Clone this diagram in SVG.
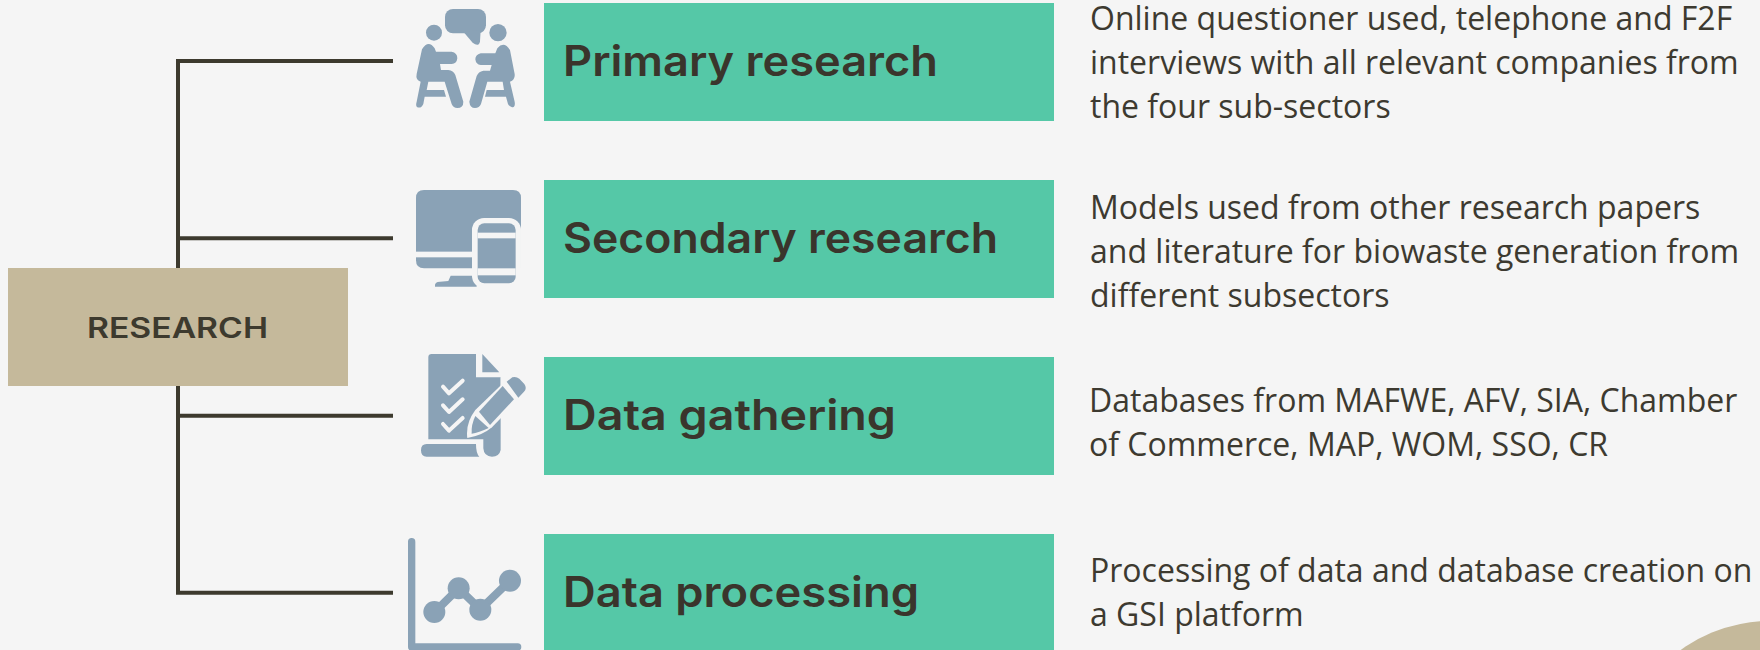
<svg xmlns="http://www.w3.org/2000/svg" width="1760" height="650" viewBox="0 0 1760 650">
<style>
.bg{fill:#f5f5f5}
.box{fill:#55c8a7}
.root{fill:#c5b99b}
.ln{fill:none;stroke:#3d3a2e;stroke-width:4}
.t{font-family:"Inter","Liberation Sans",sans-serif;font-weight:600;font-size:42px;fill:#3a352c}
.r{font-family:"Inter","Liberation Sans",sans-serif;font-weight:600;font-size:28px;fill:#3d3a2e}
.d{font-family:"Open Sans","Liberation Sans",sans-serif;font-size:32px;fill:#3d3a30}
.i{fill:#8aa2b6}
.is{fill:none;stroke:#8aa2b6;stroke-linecap:round;stroke-linejoin:round}
.o{fill:none;stroke:#f5f5f5;stroke-linecap:round;stroke-linejoin:round}
</style>
<rect class="bg" width="1760" height="650"/>
<circle cx="1770" cy="773" r="152" class="root"/>
<g id="connectors">
<path class="ln" d="M178 61V592.700M176 61H393M178 238.300H393M178 415.700H393M176 592.700H393"/>
</g>
<g id="research"><rect class="root" x="8" y="268" width="340" height="118"/><text class="r" x="177.500" y="338" text-anchor="middle" textLength="181" lengthAdjust="spacingAndGlyphs">RESEARCH</text></g>
<g id="primary">
<g transform="translate(380 0) scale(.3333)">
<rect class="i" x="195" y="27" width="123" height="73" rx="24"/><path class="i" d="M250 95 L278 128Q296 142 300 125 L302 90Z"/>
<circle class="i" cx="162" cy="98" r="24"/><circle class="i" cx="354" cy="98" r="26"/>
<path class="i" d="M126 148Q145 118 164 145L168 155H215Q232 158 232 175Q230 192 215 192H180L183 210H205Q220 212 226 225L250 305Q250 324 232 324Q220 324 215 312L194 245H145L140 270H192L198 290H134L130 312Q124 326 112 322Q106 318 110 305L122 245Q106 240 110 222Z"/>
<path class="i" d="M390 150Q372 122 352 145L346 160H302Q286 164 286 178Q288 194 302 195H335L330 212H310Q295 215 290 228L268 305Q270 324 285 324Q298 324 303 312L322 245H368L372 270H320L315 290H378L384 312Q392 326 402 320Q406 316 404 305L390 245Q406 240 404 222Z"/>
</g>
<rect class="box" x="544" y="3" width="510" height="118"/>
<text class="t" x="563" y="76" textLength="375" lengthAdjust="spacingAndGlyphs">Primary research</text>
<text class="d" x="1090" y="29.500">Online questioner used, telephone and F2F</text>
<text class="d" x="1090" y="73.500">interviews with all relevant companies from</text>
<text class="d" x="1090" y="117.500">the four sub-sectors</text>
</g>
<g id="secondary">
<g transform="translate(380 170) scale(.3333)">
<path class="i" d="M132 60H399Q423 60 423 84V295H132Q108 295 108 271V84Q108 60 132 60Z"/>
<rect class="bg" x="108" y="245" width="180" height="17"/>
<path class="i" d="M205 333L212 317H290V350H165Q163 335 180 335Z"/>
<rect class="bg" x="276" y="144" width="147" height="210" rx="36"/>
<rect class="i" x="293" y="160" width="114" height="180" rx="20"/>
<rect class="bg" x="293" y="188" width="114" height="17"/>
<rect class="bg" x="293" y="295" width="114" height="21"/>
</g>
<rect class="box" x="544" y="180" width="510" height="118"/>
<text class="t" x="563" y="253" textLength="435" lengthAdjust="spacingAndGlyphs">Secondary research</text>
<text class="d" x="1090" y="218.500">Models used from other research papers</text>
<text class="d" x="1090" y="262.500">and literature for biowaste generation from</text>
<text class="d" x="1090" y="306.500">different subsectors</text>
</g>
<g id="gathering">
<g transform="translate(380 340) scale(.3333)">
<path class="i" d="M155 42H288V112H362V330Q358 350 336 350Q312 350 310 325V298H145V52Q145 42 155 42Z"/>
<path class="i" d="M307 42L358 97H307Z"/>
<path class="i" d="M140 312H288Q288 340 298 350H140Q123 350 123 331Q123 312 140 312Z"/>
<path class="o" stroke-width="12" d="M189 140L207 160L248 122M189 196L207 216L248 178M189 252L207 272L248 234"/>
<path class="bg" d="M286 210L400 100L450 145L336 262Q305 288 262 294Q256 250 286 210Z"/>
<rect class="bg" x="362" y="112" width="20" height="30"/>
<path class="i" d="M380 125L397 112Q408 108 418 116L433 132Q442 145 432 155L415 173Z"/>
<path class="i" d="M297 215L368 138L402 178L330 255Z"/>
<path class="i" d="M286 228L326 264Q296 278 275 281Q273 255 286 228Z"/>
</g>
<rect class="box" x="544" y="357" width="510" height="118"/>
<text class="t" x="563" y="430" textLength="333" lengthAdjust="spacingAndGlyphs">Data gathering</text>
<text class="d" x="1089" y="411.500">Databases from MAFWE, AFV, SIA, Chamber</text>
<text class="d" x="1089" y="455.500">of Commerce, MAP, WOM, SSO, CR</text>
</g>
<g id="processing">
<g transform="translate(380 510) scale(.3333)">
<path class="is" stroke-width="22" d="M95 95V411H413"/>
<path class="is" stroke-width="24" d="M163 307L236 235L301 298L390 212"/>
<circle class="i" cx="163" cy="306" r="33"/><circle class="i" cx="236" cy="235" r="33"/><circle class="i" cx="301" cy="299" r="33"/><circle class="i" cx="390" cy="212" r="33"/>
</g>
<rect class="box" x="544" y="534" width="510" height="116"/>
<text class="t" x="563" y="607" textLength="356" lengthAdjust="spacingAndGlyphs">Data processing</text>
<text class="d" x="1090" y="581.500">Processing of data and database creation on</text>
<text class="d" x="1090" y="625.500">a GSI platform</text>
</g>
</svg>
